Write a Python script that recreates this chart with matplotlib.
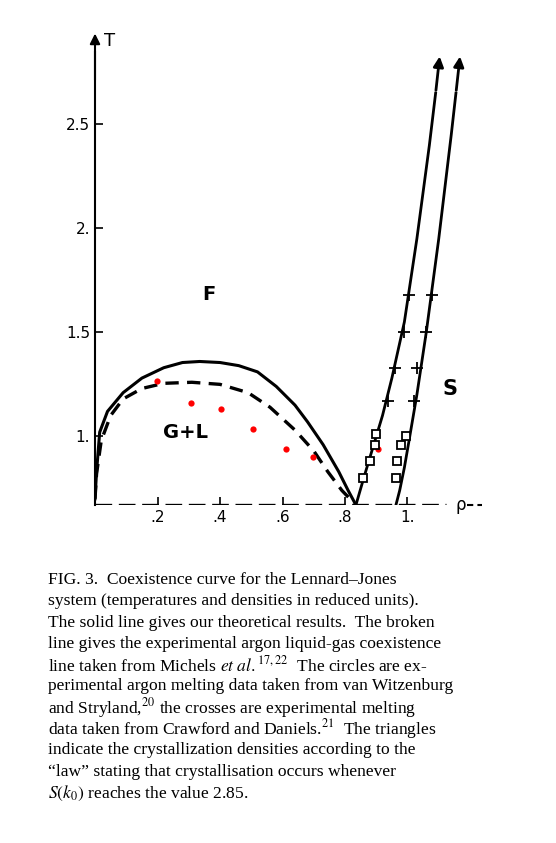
import matplotlib.pyplot as plt

plt.rcParams['mathtext.fontset'] = 'stix'

# coexistence curve (theory, solid)
coex_rho = [0.0, 0.005, 0.015, 0.04, 0.09, 0.15, 0.22, 0.28, 0.335, 0.40, 0.46, 0.52, 0.58, 0.64, 0.68, 0.73, 0.78, 0.81, 0.835]
coex_T = [0.70, 0.83, 1.02, 1.12, 1.21, 1.28, 1.33, 1.355, 1.36, 1.355, 1.34, 1.31, 1.24, 1.15, 1.07, 0.96, 0.83, 0.74, 0.67]
# argon liquid-gas (experiment, dashed)
exp_rho = [0.0, 0.005, 0.02, 0.05, 0.09, 0.15, 0.22, 0.31, 0.40, 0.49, 0.56, 0.64, 0.70, 0.745, 0.79, 0.835]
exp_T = [0.70, 0.82, 0.98, 1.10, 1.18, 1.23, 1.255, 1.26, 1.25, 1.21, 1.14, 1.03, 0.93, 0.83, 0.74, 0.67]
# melting lines
liq_rho = [0.835, 0.86, 0.89, 0.92, 0.95, 0.99, 1.03, 1.07, 1.09]
liq_T = [0.67, 0.80, 0.95, 1.10, 1.28, 1.55, 1.95, 2.40, 2.65]
sol_rho = [0.963, 0.975, 0.99, 1.005, 1.03, 1.06, 1.10, 1.14, 1.155]
sol_T = [0.67, 0.74, 0.85, 0.98, 1.20, 1.50, 1.95, 2.45, 2.65]
# argon melting (van Witzenburg & Stryland)
circ_rho = [0.197, 0.308, 0.402, 0.505, 0.61, 0.697, 0.905]
circ_T = [1.266, 1.159, 1.13, 1.034, 0.937, 0.903, 0.937]
# Crawford & Daniels crosses
cross_rho = [1.006, 0.99, 0.96, 0.937, 1.08, 1.06, 1.03, 1.02]
cross_T = [1.68, 1.50, 1.33, 1.17, 1.68, 1.50, 1.33, 1.17]
# crystallization "law" markers
sq_rho = [0.90, 0.895, 0.88, 0.857, 0.994, 0.98, 0.968, 0.962]
sq_T = [1.01, 0.96, 0.88, 0.80, 1.00, 0.957, 0.88, 0.80]

caption = [
    "FIG. 3.  Coexistence curve for the Lennard\u2013Jones",
    "system (temperatures and densities in reduced units).",
    "The solid line gives our theoretical results.  The broken",
    "line gives the experimental argon liquid-gas coexistence",
    "line taken from Michels $\\mathbf{\\mathit{et\\ al.}}^{17,22}$  The circles are ex-",
    "perimental argon melting data taken from van Witzenburg",
    "and Stryland,$^{20}$ the crosses are experimental melting",
    "data taken from Crawford and Daniels.$^{21}$  The triangles",
    "indicate the crystallization densities according to the",
    "\u201claw\u201d stating that crystallisation occurs whenever",
    "$S(\\mathbf{\\mathit{k}}_0)$ reaches the value 2.85.",
]

fig = plt.figure(figsize=[5.56, 8.43], dpi=100)
ax = fig.add_axes([95/556, 1-505/843, (485-95)/556, (505-35)/843])
ax.set_xlim(0, 390/312.5)
ax.set_ylim(0.67, 0.67 + 470/208)

ax.plot(coex_rho, coex_T, 'k-', lw=2.2)
ax.plot(exp_rho, exp_T, 'k--', lw=2.4, dashes=(4, 2.5))
ax.plot(liq_rho, liq_T, 'k-', lw=2)
ax.plot(sol_rho, sol_T, 'k-', lw=2)
ax.plot(circ_rho, circ_T, 'o', color='red', ms=4.5, mec='none')
ax.plot(cross_rho, cross_T, 'k+', ms=8, mew=1.3)
ax.plot(sq_rho, sq_T, 's', mfc='white', mec='k', ms=6, mew=1.3)
ax.axhline(0.67, color='k', lw=2.4, ls='--', dashes=(5, 2), xmax=0.9)
ax.text(1.155, 0.67, '\u03c1', fontsize=12, ha='left', va='center',
        bbox=dict(fc='white', ec='none', pad=0))
ax.plot([1.19, 1.24], [0.67, 0.67], 'k--', lw=1.5, dashes=(3, 2), clip_on=False)

# arrows on the melting lines and on the T axis
for r, t in [(liq_rho[-1], liq_T[-1]), (sol_rho[-1], sol_T[-1])]:
    ax.annotate('', xy=(r + 0.014, 2.84), xytext=(r, t), annotation_clip=False,
                arrowprops=dict(arrowstyle='-|>', color='k', lw=2, mutation_scale=15))
ax.annotate('', xy=(0, 2.95), xytext=(0, 2.7), annotation_clip=False,
            arrowprops=dict(arrowstyle='-|>', color='k', lw=1.5, mutation_scale=15))

ax.text(0.365, 1.68, 'F', fontsize=14, fontweight='bold', ha='center', va='center')
ax.text(0.29, 1.02, 'G+L', fontsize=14, fontweight='bold', ha='center', va='center')
ax.text(1.135, 1.23, 'S', fontsize=15, fontweight='bold', ha='center', va='center')
ax.text(0.045, 2.9, 'T', fontsize=13, ha='center', va='center')

ax.set_xticks([0.2, 0.4, 0.6, 0.8, 1.0])
ax.set_xticklabels(['.2', '.4', '.6', '.8', '1.'], fontsize=11)
ax.set_yticks([1.0, 1.5, 2.0, 2.5])
ax.set_yticklabels(['1.', '1.5', '2.', '2.5'], fontsize=11)
ax.tick_params(direction='in', length=6, width=1.2)
for side in ['top', 'right', 'bottom']:
    ax.spines[side].set_visible(False)
ax.spines['left'].set_linewidth(1.5)
ax.spines['left'].set_bounds(0.67, 2.85)

for i, line in enumerate(caption):
    fig.text(48/556, 1 - (580 + i*21.3)/843, line, fontsize=12.6,
             family='Liberation Serif', va='center', ha='left')

fig.savefig('out.png', dpi=100)
